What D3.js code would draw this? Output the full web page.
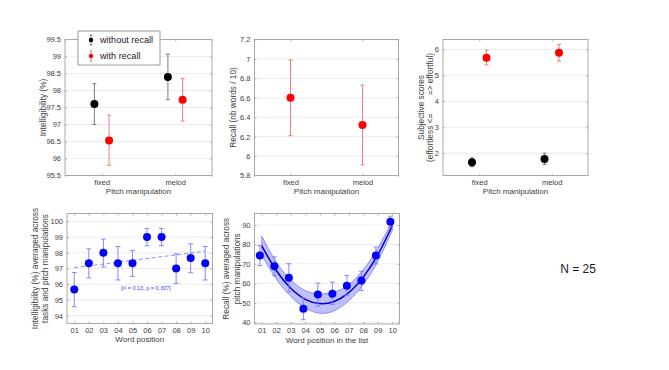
<!DOCTYPE html>
<html><head><meta charset="utf-8">
<script src="https://cdn.jsdelivr.net/npm/d3@7"></script>
<style>
html,body{margin:0;padding:0;background:#fff;}
svg{display:block;font-family:"Liberation Sans",Arial,sans-serif;}
</style></head>
<body>
<svg id="chart" width="669" height="370"></svg>
<script>
// ---------- data ----------
const categories = ["fixed", "melod"];
const legendLabels = ["without recall", "with recall"];

const intellNoRecall   = [97.60, 98.40];
const intellNoRecallLo = [97.00, 97.73];
const intellNoRecallHi = [98.20, 99.07];
const intellRecall     = [96.53, 97.73];
const intellRecallLo   = [95.80, 97.10];
const intellRecallHi   = [97.27, 98.35];

const recallWords   = [6.60, 6.32];
const recallWordsLo = [6.21, 5.91];
const recallWordsHi = [6.99, 6.73];

const subjNoRecall   = [1.65, 1.78];
const subjNoRecallLo = [1.48, 1.57];
const subjNoRecallHi = [1.82, 2.00];
const subjRecall     = [5.68, 5.87];
const subjRecallLo   = [5.40, 5.55];
const subjRecallHi   = [5.97, 6.19];

const wordPositions = ["01","02","03","04","05","06","07","08","09","10"];

const intellByPos   = [95.67, 97.33, 98.00, 97.33, 97.33, 99.00, 99.00, 97.00, 97.67, 97.33];
const intellByPosLo = [94.57, 96.40, 97.10, 96.27, 96.50, 98.45, 98.45, 96.05, 96.73, 96.27];
const intellByPosHi = [96.75, 98.25, 98.87, 98.40, 98.15, 99.55, 99.55, 97.93, 98.57, 98.40];
const intellTrendX  = [1, 10];
const intellTrendY  = [97.05, 98.10];
const intellStatText = "[r\u00B2 = 0.13, p = 0.307]";

const recallByPos   = [74.3, 68.8, 62.9, 46.9, 54.2, 54.7, 58.8, 61.4, 74.3, 91.6];
const recallByPosLo = [69.1, 64.0, 55.6, 41.3, 48.3, 49.2, 53.9, 56.3, 70.0, 88.9];
const recallByPosHi = [79.4, 73.6, 70.1, 52.5, 60.1, 60.6, 64.0, 66.2, 78.7, 94.5];
const recallFit     = [79.2, 66.6, 57.5, 51.8, 49.6, 50.7, 55.2, 63.2, 74.6, 89.6];
const recallFitLo   = [74.4, 62.2, 53.3, 47.3, 44.6, 45.9, 51.0, 59.4, 71.2, 87.2];
const recallFitHi   = [84.2, 71.0, 61.7, 56.3, 54.6, 55.5, 59.4, 67.0, 78.0, 92.0];

const intellTicks = [95.5, 96, 96.5, 97, 97.5, 98, 98.5, 99, 99.5];
const recallWordTicks = [5.8, 6, 6.2, 6.4, 6.6, 6.8, 7, 7.2];
const subjTicks = [2, 3, 4, 5, 6];
const intellPosTicks = [94, 95, 96, 97, 98, 99, 100];
const recallPosTicks = [40, 50, 60, 70, 80, 90];
const sampleText = "N = 25";

// ---------- drawing ----------
const svg = d3.select("#chart");
const TXT = "#404040", BOX = "#a0a0a0", GRID = "#e8e8e8";
const FS = 7.5;

function panel(o) {
  const x = d3.scaleLinear().domain(o.xd).range([o.l, o.r]);
  const y = d3.scaleLinear().domain(o.yd).range([o.b, o.t]);
  const g = svg.append("g");
  g.selectAll(".gy").data(o.yt).join("line")
    .attr("x1", o.l).attr("x2", o.r)
    .attr("y1", d => y(d)).attr("y2", d => y(d))
    .attr("stroke", GRID).attr("stroke-width", 0.8);
  g.append("rect").attr("x", o.l).attr("y", o.t)
    .attr("width", o.r - o.l).attr("height", o.b - o.t)
    .attr("fill", "none").attr("stroke", BOX).attr("stroke-width", 0.9);
  const ya = d3.axisLeft(y).tickValues(o.yt).tickSizeInner(-2).tickSizeOuter(0)
    .tickPadding(4).tickFormat(d => d3.format("")(d));
  const yg = g.append("g").attr("transform", `translate(${o.l},0)`).call(ya);
  const yr = g.append("g").attr("transform", `translate(${o.r},0)`)
    .call(d3.axisRight(y).tickValues(o.yt).tickSizeInner(-2).tickSizeOuter(0).tickFormat(""));
  const xa = d3.axisBottom(x).tickValues(o.xt).tickSizeInner(-2).tickSizeOuter(0)
    .tickPadding(4).tickFormat((d, i) => o.xl[i]);
  const xg = g.append("g").attr("transform", `translate(0,${o.b})`).call(xa);
  const xtop = g.append("g").attr("transform", `translate(0,${o.t})`)
    .call(d3.axisTop(x).tickValues(o.xt).tickSizeInner(-2).tickSizeOuter(0).tickFormat(""));
  [yg, yr, xg, xtop].forEach(a => {
    a.select(".domain").remove();
    a.selectAll("line").attr("stroke", BOX).attr("stroke-width", 0.8);
    a.selectAll("text").attr("fill", TXT).attr("font-size", FS)
      .attr("font-family", "Liberation Sans, Arial, sans-serif");
  });
  g.append("text").attr("x", (o.l + o.r) / 2).attr("y", o.b + 18.5)
    .attr("text-anchor", "middle").attr("font-size", 8).attr("fill", TXT).text(o.xlabel);
  o.ylabel.forEach((s, i) => {
    g.append("text")
      .attr("transform", `translate(${o.ylx[i]},${(o.t + o.b) / 2}) rotate(-90)`)
      .attr("text-anchor", "middle").attr("font-size", 8.3).attr("fill", TXT)
      .style("white-space", "pre").text(s);
  });
  return { g, x, y };
}

function errPoints(p, xs, vals, lo, hi, col, ecol, r, cap) {
  const d = vals.map((v, i) => ({ x: xs[i], v, lo: lo[i], hi: hi[i] }));
  p.g.selectAll(null).data(d).join("line")
    .attr("x1", d => p.x(d.x)).attr("x2", d => p.x(d.x))
    .attr("y1", d => p.y(d.lo)).attr("y2", d => p.y(d.hi))
    .attr("stroke", ecol).attr("stroke-width", 0.9);
  ["lo", "hi"].forEach(k => {
    p.g.selectAll(null).data(d).join("line")
      .attr("x1", d => p.x(d.x) - cap).attr("x2", d => p.x(d.x) + cap)
      .attr("y1", d => p.y(d[k])).attr("y2", d => p.y(d[k]))
      .attr("stroke", ecol).attr("stroke-width", 0.9);
  });
  p.g.selectAll(null).data(d).join("circle")
    .attr("cx", d => p.x(d.x)).attr("cy", d => p.y(d.v)).attr("r", r)
    .attr("fill", col);
}

const catIdx = categories.map((c, i) => i + 1);
const off = 0.1;

// Panel 1: intelligibility
const p1 = panel({ l: 65, r: 212, t: 39.5, b: 175.5, xd: [0.5, 2.5], yd: [95.5, 99.5],
  xt: catIdx, xl: categories, yt: intellTicks, xlabel: "Pitch manipulation",
  ylabel: ["Intelligibility (%)"], ylx: [46] });
errPoints(p1, catIdx.map(c => c - off), intellNoRecall, intellNoRecallLo, intellNoRecallHi, "#000", "#6e6e6e", 4, 2);
errPoints(p1, catIdx.map(c => c + off), intellRecall, intellRecallLo, intellRecallHi, "#ff0000", "#ff6a6a", 4, 2);
const lg = p1.g.append("g");
lg.append("rect").attr("x", 78).attr("y", 31).attr("width", 82).attr("height", 34)
  .attr("fill", "#fff").attr("stroke", "#909090").attr("stroke-width", 0.9);
const legCols = [["#000", "#6e6e6e"], ["#ff0000", "#ff6a6a"]];
legendLabels.forEach((s, i) => {
  const cy = 40 + i * 16;
  lg.append("line").attr("x1", 91).attr("x2", 91).attr("y1", cy - 5).attr("y2", cy + 5)
    .attr("stroke", legCols[i][1]).attr("stroke-width", 0.9);
  [cy - 5, cy + 5].forEach(yy => lg.append("line").attr("x1", 89.5).attr("x2", 92.5)
    .attr("y1", yy).attr("y2", yy).attr("stroke", legCols[i][1]).attr("stroke-width", 0.9));
  lg.append("circle").attr("cx", 91).attr("cy", cy).attr("r", 2.2).attr("fill", legCols[i][0]);
  lg.append("text").attr("x", 100).attr("y", cy + 3.2).attr("font-size", 9.1)
    .attr("fill", "#1a1a1a").text(s);
});

// Panel 2: recall words
const p2 = panel({ l: 254.5, r: 398.5, t: 39.5, b: 175.5, xd: [0.5, 2.5], yd: [5.8, 7.2],
  xt: catIdx, xl: categories, yt: recallWordTicks, xlabel: "Pitch manipulation",
  ylabel: ["Recall (nb words / 10)"], ylx: [236] });
errPoints(p2, catIdx, recallWords, recallWordsLo, recallWordsHi, "#ff0000", "#ff6a6a", 4, 2);

// Panel 3: subjective
const p3 = panel({ l: 443, r: 588, t: 39.5, b: 175.5, xd: [0.5, 2.5], yd: [1.14, 6.38],
  xt: catIdx, xl: categories, yt: subjTicks, xlabel: "Pitch manipulation",
  ylabel: ["Subjective scores", "(effortless <=        => effortful)"], ylx: [424, 433] });
errPoints(p3, catIdx.map(c => c - off), subjNoRecall, subjNoRecallLo, subjNoRecallHi, "#000", "#6e6e6e", 4, 2);
errPoints(p3, catIdx.map(c => c + off), subjRecall, subjRecallLo, subjRecallHi, "#ff0000", "#ff6a6a", 4, 2);

// Panel 4: intelligibility by word position
const posIdx = wordPositions.map((w, i) => i + 1);
const p4 = panel({ l: 67, r: 212.5, t: 213.5, b: 323.5, xd: [0.5, 10.5], yd: [93.5, 100.5],
  xt: posIdx, xl: wordPositions, yt: intellPosTicks, xlabel: "Word position",
  ylabel: ["Intelligibility (%) averaged across", "tasks and pitch manipulations"], ylx: [38, 48] });
p4.g.append("path")
  .attr("d", d3.line().x((d, i) => p4.x(intellTrendX[i])).y(d => p4.y(d))(intellTrendY))
  .attr("stroke", "#8c8cff").attr("stroke-width", 1).attr("stroke-dasharray", "4,2.5").attr("fill", "none");
errPoints(p4, posIdx, intellByPos, intellByPosLo, intellByPosHi, "#0000ff", "#7a7aff", 4, 2.5);
p4.g.append("text").attr("x", 121).attr("y", 290).attr("font-size", 5.5)
  .attr("fill", "#3a3aff").text(intellStatText);

// Panel 5: recall by word position
const p5 = panel({ l: 254.5, r: 399.5, t: 213.5, b: 324, xd: [0.5, 10.5], yd: [39.1, 95.9],
  xt: posIdx, xl: wordPositions, yt: recallPosTicks, xlabel: "Word position in the list",
  ylabel: ["Recall (%) averaged across", "pitch manipulations"], ylx: [229, 240] });
const bandData = posIdx.map((p, i) => ({ p, lo: recallFitLo[i], hi: recallFitHi[i], m: recallFit[i] }));
p5.g.append("path")
  .attr("d", d3.area().curve(d3.curveNatural).x(d => p5.x(d.p)).y0(d => p5.y(d.lo)).y1(d => p5.y(d.hi))(bandData))
  .attr("fill", "rgba(90,90,255,0.38)").attr("stroke", "#6a6aff").attr("stroke-width", 0.7);
p5.g.append("path")
  .attr("d", d3.line().curve(d3.curveNatural).x(d => p5.x(d.p)).y(d => p5.y(d.m))(bandData))
  .attr("fill", "none").attr("stroke", "#0000cc").attr("stroke-width", 1.5);
errPoints(p5, posIdx.map(p => p - 0.13), recallByPos, recallByPosLo, recallByPosHi, "#0000ff", "#7a7aff", 4, 2.5);

// N text
svg.append("text").attr("x", 578).attr("y", 273).attr("text-anchor", "middle")
  .attr("font-size", 12).attr("fill", "#1a1a1a").text(sampleText);
</script>
</body></html>
